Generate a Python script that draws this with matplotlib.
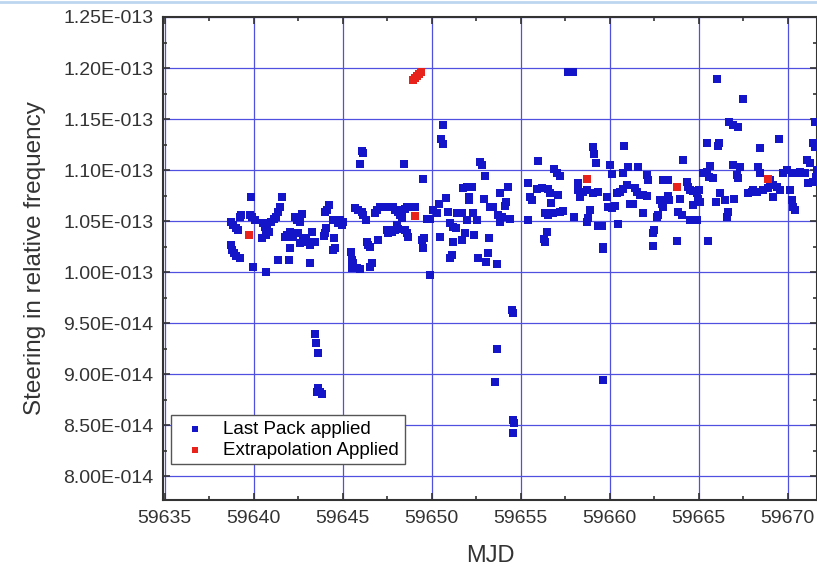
import numpy as np
import matplotlib
matplotlib.use("Agg")
from matplotlib import pyplot as plt
from matplotlib.ticker import MultipleLocator, FuncFormatter
from matplotlib.lines import Line2D

# MJD and steering (in units of 1e-14) for the "Last Pack applied" points
mjd_last = [
    59638.71, 59638.82, 59638.99, 59639.10, 59639.27, 59639.21, 59638.71, 59638.76, 59638.88, 59638.99,
    59639.21, 59639.87, 59639.78, 59639.89, 59640.06, 59639.94, 59640.67, 59640.51, 59640.62, 59640.73,
    59640.45, 59640.67, 59640.84, 59640.96, 59641.12, 59641.24, 59641.35, 59641.46, 59641.57, 59641.35,
    59642.02, 59641.97, 59641.74, 59641.85, 59642.02, 59642.30, 59642.42, 59642.58, 59642.70, 59642.19,
    59642.47, 59642.58, 59642.75, 59642.92, 59643.03, 59643.15, 59643.26, 59643.43, 59643.15, 59643.99,
    59644.10, 59644.21, 59644.04, 59643.99, 59643.93, 59644.44, 59644.44, 59644.72, 59644.94, 59645.00,
    59644.83, 59644.49, 59644.55,
    59643.43, 59643.48, 59643.60, 59643.60, 59643.71, 59643.82, 59643.54,
    59646.07, 59646.12, 59645.96, 59645.45, 59645.51, 59645.56, 59645.51, 59645.79, 59645.96, 59645.67,
    59645.84, 59646.07, 59646.12, 59646.29, 59646.35, 59646.40, 59646.52, 59646.63, 59646.52, 59646.97,
    59646.91, 59646.80, 59647.08, 59647.36, 59647.64, 59647.81, 59647.92, 59648.09, 59648.31, 59648.48,
    59648.60, 59648.88, 59649.04, 59647.47, 59647.53, 59647.75, 59647.92, 59648.09, 59648.03, 59648.20,
    59648.31, 59648.48, 59648.60, 59648.65, 59648.43, 59649.49, 59649.44, 59649.55, 59649.49, 59649.72,
    59649.89, 59649.89, 59650.06, 59650.28, 59650.39, 59650.79, 59650.62, 59650.51, 59650.62, 59650.45,
    59650.90, 59651.01, 59651.18, 59651.35, 59651.01, 59651.12, 59651.18, 59651.69, 59651.85, 59651.40,
    59651.69, 59651.74, 59651.97, 59652.25, 59652.08, 59652.08, 59651.97, 59652.30, 59652.53, 59652.36,
    59652.58, 59653.03, 59652.70, 59652.81, 59652.98, 59652.92, 59653.43, 59653.26, 59653.20, 59653.15,
    59653.65, 59653.82, 59654.27, 59654.16, 59654.10, 59653.71, 59653.82, 59654.38, 59653.93,
    59654.49, 59654.55, 59653.65, 59653.54, 59659.61, 59654.55, 59654.61, 59654.55,
    59655.39, 59655.96, 59656.85, 59657.02, 59657.19, 59655.51, 59655.62, 59655.90, 59656.18, 59656.52,
    59656.63, 59657.08, 59655.39, 59656.35, 59656.52, 59656.80, 59657.19, 59657.36, 59656.69, 59656.46,
    59656.29, 59656.35, 59657.64, 59657.92, 59657.98, 59658.20, 59658.20, 59658.31, 59658.48, 59658.71,
    59659.04, 59659.10, 59659.21, 59659.04, 59659.33, 59658.88, 59658.76, 59658.71, 59659.33, 59659.55,
    59659.61, 59659.61, 59659.83, 59659.89, 59660.11, 59660.28, 59660.00, 59660.11, 59660.39, 59660.56,
    59660.73, 59660.96, 59660.73, 59661.01, 59661.57, 59660.45, 59660.79, 59661.12, 59661.29, 59661.40,
    59661.52, 59661.69, 59661.85, 59662.08, 59662.08, 59662.13, 59661.85, 59662.64, 59662.81, 59662.92,
    59662.98, 59662.70, 59662.47, 59662.42, 59662.42, 59662.98, 59663.26, 59663.26, 59663.31, 59663.76,
    59663.82, 59663.93, 59664.10, 59664.33, 59664.38, 59664.49, 59664.66, 59664.89, 59665.00, 59664.94,
    59665.06, 59664.66, 59664.89, 59664.66, 59664.49, 59664.04, 59665.51, 59665.22, 59665.45, 59665.62,
    59665.56, 59665.79, 59666.01, 59666.12, 59666.07, 59665.45, 59666.18, 59666.46, 59665.96, 59666.57,
    59666.63, 59666.97, 59666.69, 59666.91, 59667.19, 59666.91, 59667.30, 59667.47, 59667.13, 59667.19,
    59667.75, 59667.98, 59668.03, 59668.26, 59668.43, 59668.31, 59668.43, 59668.60, 59668.88, 59668.99,
    59669.16, 59669.38, 59669.16, 59669.55, 59669.72, 59669.94, 59670.22, 59670.11, 59670.22, 59670.28,
    59670.39, 59669.49, 59670.51, 59670.67, 59670.96, 59671.12, 59671.40, 59671.07, 59671.24, 59671.52,
    59671.40, 59671.52, 59671.63, 59671.57,
]
steer_last = [
    10.490, 10.461, 10.431, 10.412, 10.559, 10.539, 10.265, 10.216, 10.186, 10.157,
    10.137, 10.732, 10.559, 10.539, 10.510, 10.049, 10.000, 10.480, 10.441, 10.412,
    10.333, 10.363, 10.392, 10.490, 10.520, 10.539, 10.588, 10.637, 10.735, 10.118,
    10.235, 10.118, 10.343, 10.363, 10.392, 10.539, 10.510, 10.490, 10.569, 10.343,
    10.382, 10.284, 10.314, 10.333, 10.294, 10.265, 10.392, 10.294, 10.088, 10.588,
    10.608, 10.657, 10.431, 10.382, 10.353, 10.216, 10.510, 10.480, 10.461, 10.490,
    10.510, 10.333, 10.235,
    9.392, 9.304, 9.206, 8.863, 8.824, 8.804, 8.824,
    11.186, 11.167, 11.059, 10.196, 10.118, 10.088, 10.039, 10.039, 10.029, 10.627,
    10.608, 10.588, 10.559, 10.510, 10.294, 10.265, 10.245, 10.088, 10.049, 10.314,
    10.608, 10.578, 10.637, 10.637, 10.637, 10.637, 10.608, 10.588, 10.608, 10.618,
    10.637, 10.637, 10.637, 10.412, 10.382, 10.392, 10.412, 10.422, 10.461, 10.559,
    10.529, 10.412, 10.382, 10.343, 11.059, 10.912, 10.314, 10.333, 10.235, 10.520,
    10.520, 9.971, 10.608, 10.578, 10.667, 10.725, 11.441, 11.304, 11.255, 10.343,
    10.588, 10.480, 10.441, 10.431, 10.137, 10.167, 10.294, 10.314, 10.382, 10.578,
    10.578, 10.824, 10.833, 10.833, 10.735, 10.706, 10.510, 10.578, 10.510, 10.363,
    10.137, 10.098, 11.078, 11.049, 10.941, 10.716, 10.637, 10.637, 10.333, 10.186,
    10.078, 10.775, 10.833, 10.686, 10.647, 10.559, 10.490, 10.520, 10.539,
    9.627, 9.598, 9.245, 8.922, 8.941, 8.549, 8.520, 8.422,
    10.873, 11.088, 11.010, 10.971, 10.941, 10.735, 10.706, 10.814, 10.824, 10.814,
    10.775, 10.755, 10.510, 10.578, 10.559, 10.578, 10.588, 10.598, 10.676, 10.392,
    10.324, 10.294, 11.961, 11.961, 10.539, 10.873, 10.804, 10.735, 10.784, 10.804,
    11.225, 11.157, 11.069, 10.775, 10.784, 10.608, 10.529, 10.490, 10.451, 10.451,
    10.245, 10.225, 10.735, 10.637, 10.627, 10.647, 11.049, 10.961, 10.775, 10.784,
    10.814, 10.853, 10.971, 11.029, 11.029, 10.471, 11.235, 10.667, 10.667, 10.824,
    10.784, 10.755, 10.755, 10.745, 10.951, 10.902, 10.578, 10.539, 10.706, 10.667,
    10.637, 10.559, 10.412, 10.382, 10.255, 10.902, 10.902, 10.745, 10.706, 10.304,
    10.588, 10.716, 11.098, 10.882, 10.833, 10.804, 10.794, 10.775, 10.804, 10.716,
    10.686, 10.657, 10.510, 10.510, 10.510, 10.559, 10.304, 10.971, 10.980, 11.039,
    10.931, 10.922, 11.892, 11.265, 11.235, 11.265, 10.775, 10.706, 10.686, 10.539,
    10.588, 10.716, 11.471, 11.441, 11.422, 11.049, 11.029, 11.696, 10.951, 10.922,
    10.775, 10.784, 10.804, 10.784, 11.216, 11.029, 10.971, 10.804, 10.824, 10.902,
    10.853, 10.833, 10.735, 10.804, 10.971, 11.000, 10.971, 10.804, 10.706, 10.637,
    10.608, 11.304, 10.971, 10.980, 10.971, 10.873, 10.882, 11.098, 11.069, 11.471,
    11.265, 11.225, 11.000, 10.931,
]

# "Extrapolation Applied" points
mjd_extrap = [59639.72, 59649.04, 59658.71, 59663.76, 59668.88,
              59648.93, 59649.04, 59649.16, 59649.27, 59649.38]
steer_extrap = [10.363, 10.549, 10.912, 10.833, 10.912,
                11.882, 11.902, 11.922, 11.941, 11.961]

plt.rcParams['font.family'] = ['Liberation Sans', 'DejaVu Sans']

fig = plt.figure(figsize=(8.17, 5.67), dpi=100)
ax = fig.add_axes([163 / 817, 67 / 567, 654 / 817, 483 / 567])

blue = '#1414c8'
red = '#e8231c'
ax.scatter(mjd_last, np.array(steer_last) * 1e-14, marker='s', s=27, color=blue,
           linewidths=0, label='Last Pack applied', zorder=3)
ax.scatter(mjd_extrap, np.array(steer_extrap) * 1e-14, marker='s', s=27, color=red,
           linewidths=0, label='Extrapolation Applied', zorder=4)

ax.set_xlim(59634.9, 59671.65)
ax.set_ylim(7.765e-14, 1.25e-13)

ax.xaxis.set_major_locator(MultipleLocator(5))
ax.xaxis.set_minor_locator(MultipleLocator(2.5))
ax.yaxis.set_major_locator(MultipleLocator(0.5e-14))
ax.yaxis.set_minor_locator(MultipleLocator(0.25e-14))


def sci_fmt(v, pos):
    m, e = f"{v:.2E}".split('E')
    return f"{m}E{int(e):+04d}"


ax.yaxis.set_major_formatter(FuncFormatter(sci_fmt))
ax.xaxis.set_major_formatter(FuncFormatter(lambda v, p: f"{v:.0f}"))

ax.grid(True, which='major', color='#5050e0', linewidth=0.9)
ax.set_axisbelow(True)

for s in ax.spines.values():
    s.set_color('#333333')
    s.set_linewidth(1.5)

ax.tick_params(which='both', direction='in', top=True, right=True, colors='#333333',
               labelcolor='#333333', labelsize=14, pad=7)
ax.tick_params(which='major', length=5, width=1.2)
ax.tick_params(which='minor', length=3, width=1.2)

ax.set_ylabel('Steering in relative frequency', fontsize=17.5, color='#333333', labelpad=12)
ax.set_xlabel('MJD', fontsize=17, color='#333333', labelpad=13)

leg = ax.legend(loc='lower left', bbox_to_anchor=(0.012, 0.074), fontsize=13.5,
                frameon=True, fancybox=False, edgecolor='#555555', framealpha=1,
                borderpad=0.3, handlelength=2.0, handletextpad=0.5, labelspacing=0.2,
                borderaxespad=0, markerscale=0.85)
leg.get_frame().set_linewidth(1.0)

# light frame line at the very top of the screenshot
fig.add_artist(Line2D([0, 1], [0.997, 0.997], transform=fig.transFigure,
                      color='#bcd6f0', linewidth=2))

fig.savefig('out.png', dpi=100)
